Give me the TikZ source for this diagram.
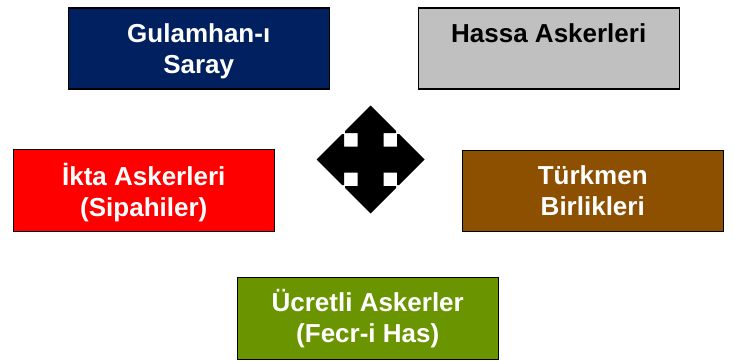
\documentclass[tikz,border=0pt]{standalone}
\usepackage{fontspec}
\setmainfont{Liberation Sans}
\definecolor{gulblue}{HTML}{002060}
\definecolor{hassagray}{HTML}{C0C0C0}
\definecolor{iktared}{HTML}{FF0000}
\definecolor{turkbrown}{HTML}{8C5000}
\definecolor{ucrgreen}{HTML}{6B9500}
\begin{document}
\begin{tikzpicture}[x=1pt,y=-1pt,
  box/.style={draw=black, line width=1.5pt, minimum width=261pt, minimum height=81pt, inner sep=0pt, anchor=north west},
  lbl/.style={anchor=north, align=center, font=\fontsize{26}{31}\selectfont\bfseries, inner sep=0pt}]
\useasboundingbox (0,0) rectangle (734,361);
\node[box, fill=gulblue] (gul) at (67.5,7.5) {};
\node[lbl, text=white] (gult) at ([yshift=-15pt]gul.north) {\rule{0pt}{20pt}Gulamhan-ı\\Saray};
\node[box, fill=hassagray] (hassa) at (417.5,7.5) {};
\node[lbl, text=black] (hassat) at ([yshift=-15pt]hassa.north) {\rule{0pt}{20pt}Hassa Askerleri};
\node[box, fill=iktared, minimum height=82pt] (ikta) at (12.5,148.5) {};
\node[lbl, text=white] (iktat) at ([yshift=-15pt]ikta.north) {\rule{0pt}{20pt}İkta Askerleri\\(Sipahiler)};
\node[box, fill=turkbrown] (turk) at (461.5,149.5) {};
\node[lbl, text=white] (turkt) at ([yshift=-15pt]turk.north) {\rule{0pt}{20pt}Türkmen\\Birlikleri};
\node[box, fill=ucrgreen, minimum height=82pt] (ucr) at (236.5,276.5) {};
\node[lbl, text=white] (ucrt) at ([yshift=-13pt]ucr.north) {\rule{0pt}{20pt}Ücretli Askerler\\(Fecr-i Has)};
\fill[black, shift={(370.5,159.5)}]
  (0,-54) -- (25.5,-28.5) -- (25.5,-26.5) -- (13,-26.5) -- (13,-13) -- (26.5,-13) -- (26.5,-25.5) -- (28.5,-25.5) -- (54,0)
  -- (28.5,25.5) -- (26.5,25.5) -- (26.5,13) -- (13,13) -- (13,26.5) -- (25.5,26.5) -- (25.5,28.5) -- (0,54)
  -- (-25.5,28.5) -- (-25.5,26.5) -- (-13,26.5) -- (-13,13) -- (-26.5,13) -- (-26.5,25.5) -- (-28.5,25.5) -- (-54,0)
  -- (-28.5,-25.5) -- (-26.5,-25.5) -- (-26.5,-13) -- (-13,-13) -- (-13,-26.5) -- (-25.5,-26.5) -- (-25.5,-28.5) -- cycle;
\end{tikzpicture}
\end{document}
